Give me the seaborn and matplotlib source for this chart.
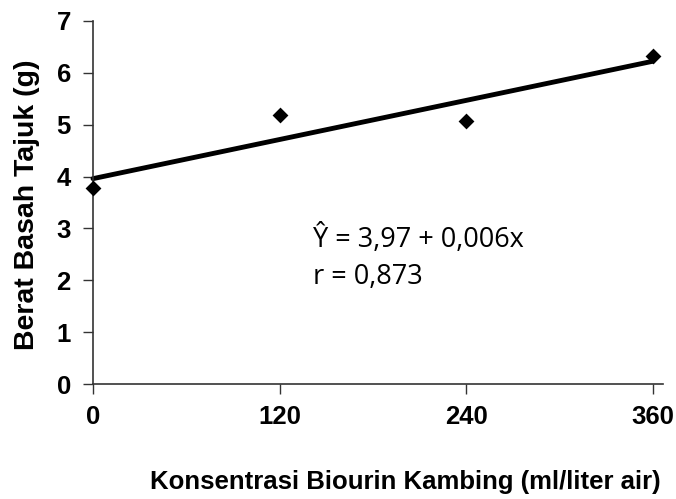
import numpy as np
import pandas as pd
import matplotlib
matplotlib.use("Agg")
import matplotlib.pyplot as plt
import seaborn as sns

konsentrasi = [0, 120, 240, 360]
berat = [3.78, 5.18, 5.08, 6.33]
x_ticks = [0, 120, 240, 360]
y_ticks = [0, 1, 2, 3, 4, 5, 6, 7]

df = pd.DataFrame({"x": konsentrasi, "y": berat})

sns.set_theme(style="white")
plt.rcParams['font.family'] = ['Liberation Sans', 'DejaVu Sans']

fig = plt.figure(figsize=(6.76, 4.99), dpi=100)
ax = fig.add_axes([93/676, 1-384/499, (663-93)/676, (384-21)/499])

sns.regplot(data=df, x="x", y="y", ci=None, ax=ax, truncate=True, marker="D",
            scatter_kws=dict(s=65, color="black", alpha=1, clip_on=False, zorder=3, linewidths=0),
            line_kws=dict(color="black", lw=3.5, clip_on=False))

ax.set_xlim(0, 366.4)
ax.set_ylim(0, 7)
ax.set_xticks(x_ticks)
ax.set_yticks(y_ticks)
ax.set_xticklabels([str(v) for v in x_ticks], fontweight="bold", fontsize=18.5, color="black")
ax.set_yticklabels([str(v) for v in y_ticks], fontweight="bold", fontsize=18.5, color="black")
ax.tick_params(axis="x", direction="out", length=7, width=1, color="#333333", pad=8, bottom=True)
ax.tick_params(axis="y", direction="out", length=7, width=1, color="#333333", pad=9, left=True)
for s in ["top", "right"]:
    ax.spines[s].set_visible(False)
for s in ["left", "bottom"]:
    ax.spines[s].set_color("#333333")
    ax.spines[s].set_linewidth(1.2)

ax.set_xlabel("Konsentrasi Biourin Kambing (ml/liter air)", fontweight="bold", fontsize=18.5, color="black")
ax.set_ylabel("Berat Basah Tajuk (g)", fontweight="bold", fontsize=20.5, color="black")
ax.xaxis.set_label_coords((405-93)/570, (384-470)/363)
ax.yaxis.set_label_coords((40-93)/570, (384-205)/363)

ax.text((313-93)/570, (384-247)/363, "Ŷ = 3,97 + 0,006x", transform=ax.transAxes,
        fontsize=19.5, family=["Open Sans", "DejaVu Sans"], va="baseline", ha="left", color="black")
ax.text((313-93)/570, (384-284)/363, "r = 0,873", transform=ax.transAxes,
        fontsize=19.5, family=["Open Sans", "DejaVu Sans"], va="baseline", ha="left", color="black")

fig.savefig("out.png", dpi=100)
